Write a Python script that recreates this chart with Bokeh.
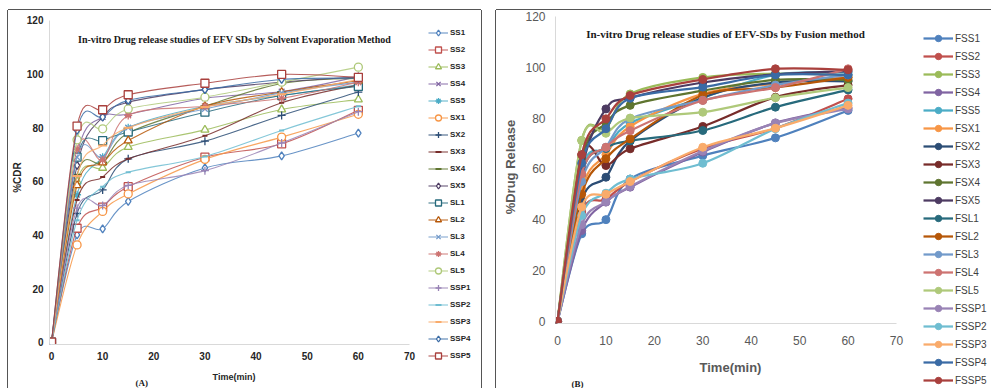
from bokeh.plotting import figure
from bokeh.models import (Range1d, FixedTicker, Legend, LegendItem, Label, Row, Column,
                          Spacer, Title)
from bokeh.embed import file_html
from bokeh.resources import INLINE

# ---------------- data ----------------
time_min = [0, 5, 10, 15, 30, 45, 60]
x_ticks = [0, 10, 20, 30, 40, 50, 60, 70]
y_ticks = [0, 20, 40, 60, 80, 100, 120]

# Panel (A): solvent evaporation method, %CDR
a_names = ["SS1", "SS2", "SS3", "SS4", "SS5", "SX1", "SX2", "SX3", "SX4", "SX5",
           "SL1", "SL2", "SL3", "SL4", "SL5", "SSP1", "SSP2", "SSP3", "SSP4", "SSP5"]
SS1 = [0, 40, 42.3, 52.5, 65, 69.5, 78]
SS2 = [0, 42.5, 50.4, 58, 69, 74, 86.5]
SS3 = [0, 60, 65, 72.8, 79.2, 86.8, 90.5]
SS4 = [0, 70, 84, 85, 91, 93.5, 99]
SS5 = [0, 55, 69, 80, 88, 92, 96]
SX1 = [0, 36.3, 48.8, 55.3, 68.2, 76.5, 85]
SX2 = [0, 48, 56.8, 68.4, 75, 84.6, 93.3]
SX3 = [0, 53, 61.6, 68.4, 77, 89.3, 96]
SX4 = [0, 62.5, 67, 78, 88, 96.5, 98.5]
SX5 = [0, 66, 84, 89.5, 94.2, 97, 99]
SL1 = [0, 69, 75.2, 78.4, 85.8, 92, 95.4]
SL2 = [0, 58.5, 67, 75.2, 88, 93.3, 97.5]
SL3 = [0, 69, 69, 80, 87, 93, 97]
SL4 = [0, 72, 68, 84.6, 88, 91, 97]
SL5 = [0, 75.5, 79.6, 87, 91.4, 97, 102.6]
SSP1 = [0, 50, 51, 58.5, 64, 74.3, 86]
SSP2 = [0, 45.5, 58, 63.4, 69.3, 79, 88]
SSP3 = [0, 62, 73.4, 80, 87.7, 92.5, 98]
SSP4 = [0, 79, 84, 90.2, 94.2, 98, 98.5]
SSP5 = [0, 80.6, 86.7, 92.3, 96.6, 99.9, 98.8]
a_values = [SS1, SS2, SS3, SS4, SS5, SX1, SX2, SX3, SX4, SX5,
            SL1, SL2, SL3, SL4, SL5, SSP1, SSP2, SSP3, SSP4, SSP5]

# Panel (B): fusion method, %Drug Release
b_names = ["FSS1", "FSS2", "FSS3", "FSS4", "FSS5", "FSX1", "FSX2", "FSX3", "FSX4", "FSX5",
           "FSL1", "FSL2", "FSL3", "FSL4", "FSL5", "FSSP1", "FSSP2", "FSSP3", "FSSP4", "FSSP5"]
FSS1 = [0, 34.4, 40, 56, 65.2, 72.2, 83]
FSS2 = [0, 43, 48, 55, 68, 76, 87.6]
FSS3 = [0, 71.2, 76, 89.5, 96, 97.5, 97]
FSS4 = [0, 35.7, 46.9, 52.8, 66.6, 78.1, 84]
FSS5 = [0, 60, 68, 78, 88, 97, 98]
FSX1 = [0, 52, 65.6, 76.7, 89.5, 93.5, 96.1]
FSX2 = [0, 47.5, 56.7, 71, 88, 94, 94.5]
FSX3 = [0, 65.6, 61.3, 67.9, 76.7, 88.2, 93]
FSX4 = [0, 64, 78, 85, 90.8, 95, 95]
FSX5 = [0, 60, 83.6, 88, 94, 97.2, 98.5]
FSL1 = [0, 58, 68, 71, 75.1, 84.3, 91.1]
FSL2 = [0, 50, 64, 71.8, 89, 92, 96]
FSL3 = [0, 55, 68.5, 79.7, 87, 93, 97]
FSL4 = [0, 58, 68.5, 75, 86.9, 92, 99.4]
FSL5 = [0, 71.2, 74, 80, 82.3, 88, 92]
FSSP1 = [0, 38, 47, 53, 67, 78, 83.6]
FSSP2 = [0, 41.6, 50.4, 56, 62.2, 75.8, 85.9]
FSSP3 = [0, 45, 50, 55, 68.5, 76, 85]
FSSP4 = [0, 62.2, 75.8, 87.8, 92.2, 97, 97]
FSSP5 = [0, 65.6, 79.7, 88.9, 95.2, 99.4, 99]
b_values = [FSS1, FSS2, FSS3, FSS4, FSS5, FSX1, FSX2, FSX3, FSX4, FSX5,
            FSL1, FSL2, FSL3, FSL4, FSL5, FSSP1, FSSP2, FSSP3, FSSP4, FSSP5]

# ---------------- styles ----------------
palette = ["#4F81BD", "#C0504D", "#9BBB59", "#8064A2", "#4BACC6", "#F79646",
           "#2C4D75", "#772C2A", "#5F7530", "#4D3B62", "#276A7C", "#B65708",
           "#729ACA", "#CD7371", "#AFC97A", "#9983B5", "#6FBDD1", "#F9AB6B",
           "#3A6BA5", "#A9403D"]
a_markers = ["diamond", "square", "triangle", "x", "asterisk", "circle", "cross",
             "dash", "dash", "diamond", "square", "triangle", "x", "asterisk",
             "circle", "cross", "dash", "dash", "diamond", "square"]
a_sizes = [8, 8, 8, 8, 8, 8, 8, 5, 9, 8, 8, 8, 8, 8, 8, 8, 5, 9, 8, 8]

H = 378


def no_align(p):
    # keep every plot's own borders (do not line frames up across the row)
    try:
        p.frame_align = False
    except AttributeError:
        pass


def smooth_parts(xs, ys):
    """Bezier control points (Catmull-Rom style, like Excel smoothed lines)."""
    n = len(xs)
    out = dict(x0=[], y0=[], x1=[], y1=[], cx0=[], cy0=[], cx1=[], cy1=[])
    for i in range(n - 1):
        a = max(i - 1, 0)
        b = min(i + 2, n - 1)
        out["x0"].append(xs[i]); out["y0"].append(ys[i])
        out["x1"].append(xs[i + 1]); out["y1"].append(ys[i + 1])
        out["cx0"].append(xs[i] + (xs[i + 1] - xs[a]) / 6.0)
        out["cy0"].append(ys[i] + (ys[i + 1] - ys[a]) / 6.0)
        out["cx1"].append(xs[i + 1] - (xs[b] - xs[i]) / 6.0)
        out["cy1"].append(ys[i + 1] - (ys[b] - ys[i]) / 6.0)
    return out


def style_axes(p, tick_font_size, tick_color, tick_bold, lab_size, lab_color,
               x_std, x_lab_std, y_std, y_lab_std, xlabel, ylabel):
    p.xgrid.visible = False
    p.ygrid.visible = False
    for ax, ticks in ((p.xaxis[0], x_ticks), (p.yaxis[0], y_ticks)):
        ax.ticker = FixedTicker(ticks=ticks)
        ax.bounds = (ticks[0], ticks[-1])
        ax.axis_line_color = "#d9d9d9"
        ax.axis_line_width = 1
        ax.major_tick_line_color = None
        ax.minor_tick_line_color = None
        ax.major_tick_out = 0
        ax.major_tick_in = 0
        ax.major_label_text_font = "Liberation Sans"
        ax.major_label_text_font_size = tick_font_size
        ax.major_label_text_color = tick_color
        ax.major_label_text_font_style = "bold" if tick_bold else "normal"
        ax.axis_label_text_font = "Liberation Sans"
        ax.axis_label_text_font_style = "bold"
        ax.axis_label_text_font_size = lab_size
        ax.axis_label_text_color = lab_color
    p.xaxis[0].major_label_standoff = x_std
    p.xaxis[0].axis_label_standoff = x_lab_std
    p.xaxis[0].axis_label = xlabel
    p.yaxis[0].major_label_standoff = y_std
    p.yaxis[0].axis_label_standoff = y_lab_std
    p.yaxis[0].axis_label = ylabel


def legend_figure(width, items_spec, **legend_kw):
    """A narrow strip that only carries the legend (its data lie outside its view)."""
    lf = figure(width=width, height=H, output_backend="svg", toolbar_location=None,
                x_axis_location=None, y_axis_location=None,
                x_range=Range1d(-30, -20), y_range=Range1d(-30, -20),
                min_border_left=0, min_border_right=0, min_border_top=0, min_border_bottom=0,
                outline_line_color=None, background_fill_color="white",
                border_fill_color="white")
    no_align(lf)
    lf.grid.visible = False
    items = []
    for name, vals, line_kw, mark_kw in items_spec:
        bz = lf.bezier(source=smooth_parts(time_min, vals), x0="x0", y0="y0", x1="x1", y1="y1",
                       cx0="cx0", cy0="cy0", cx1="cx1", cy1="cy1", **line_kw)
        sc = lf.scatter(time_min, vals, **mark_kw)
        items.append(LegendItem(label=name, renderers=[bz, sc]))
    lf.add_layout(Legend(items=items, border_line_color=None,
                         background_fill_alpha=0, **legend_kw))
    return lf


# ---------------- panel A ----------------
pa = figure(width=410, height=H, output_backend="svg", toolbar_location=None,
            x_range=Range1d(-0.391, 71.76), y_range=Range1d(-0.858, 123.73),
            min_border_left=41, min_border_right=0, min_border_top=0, min_border_bottom=44,
            outline_line_color=None, background_fill_color="white", border_fill_color="white")
no_align(pa)
style_axes(pa, "10px", "#262626", True, "9px", "#262626", 7, 9, 6, 1, "Time(min)", "%CDR")
pa.yaxis[0].axis_label_text_font_size = "10px"

spec_a = []
for name, vals, col, mk, sz in zip(a_names, a_values, palette, a_markers, a_sizes):
    line_kw = dict(line_color=col, line_width=1.1, line_alpha=0.85)
    lw = 2 if mk == "dash" else 1.3
    mark_kw = dict(marker=mk, size=sz, line_color=col, line_width=lw, fill_color="white")
    pa.bezier(source=smooth_parts(time_min, vals), x0="x0", y0="y0", x1="x1", y1="y1",
              cx0="cx0", cy0="cy0", cx1="cx1", cy1="cy1", **line_kw)
    pa.scatter(time_min, vals, **mark_kw)
    spec_a.append((name, vals, line_kw, mark_kw))

pa.add_layout(Label(x=35.78, y=112.9, text="In-vitro Drug release studies of EFV SDs by Solvent Evaporation Method",
                    text_align="center", text_baseline="middle", text_font="Liberation Serif",
                    text_font_style="bold", text_font_size="10px", text_color="#1a1a1a"))
pa.add_layout(Title(text="(A)", align="left", vertical_align="top", offset=86, standoff=-13,
                    text_font="Liberation Serif", text_font_style="bold",
                    text_font_size="9px", text_color="#1a1a1a"), "below")
pa.styles = {"box-shadow": "-1px 0 0 0 #555, 0 -1px 0 0 #555"}

la = legend_figure(63, spec_a, location=(10, 25.5), glyph_width=20, glyph_height=15,
                   label_height=15, spacing=2, padding=4, margin=0, label_standoff=2,
                   label_text_font="Liberation Sans", label_text_font_style="bold",
                   label_text_font_size="8px", label_text_color="#262626")
la.styles = {"box-shadow": "1px 0 0 0 #555, 0 -1px 0 0 #555"}

# ---------------- panel B ----------------
pb = figure(width=409, height=H, output_backend="svg", toolbar_location=None,
            x_range=Range1d(-0.413, 71.86), y_range=Range1d(-0.906, 122.36),
            min_border_left=59, min_border_right=0, min_border_top=0, min_border_bottom=65,
            outline_line_color=None, background_fill_color="white", border_fill_color="white")
no_align(pb)
style_axes(pb, "12px", "#595959", False, "13px", "#595959", 12, 12, 10, 4, "Time(min)", "%Drug Release")

spec_b = []
for name, vals, col in zip(b_names, b_values, palette):
    line_kw = dict(line_color=col, line_width=2.25)
    mark_kw = dict(marker="circle", size=8, line_color=col, line_width=1, fill_color=col)
    pb.bezier(source=smooth_parts(time_min, vals), x0="x0", y0="y0", x1="x1", y1="y1",
              cx0="cx0", cy0="cy0", cx1="cx1", cy1="cy1", **line_kw)
    pb.scatter(time_min, vals, **mark_kw)
    spec_b.append((name, vals, line_kw, mark_kw))

pb.add_layout(Label(x=34.69, y=113.3, text="In-vitro Drug release studies of EFV-SDs by Fusion method",
                    text_align="center", text_baseline="middle", text_font="Liberation Serif",
                    text_font_style="bold", text_font_size="11px", text_color="#1a1a1a"))
pb.add_layout(Title(text="(B)", align="left", vertical_align="bottom", offset=16, standoff=-2,
                    text_font="Liberation Serif", text_font_style="bold",
                    text_font_size="9px", text_color="#1a1a1a"), "below")
pb.styles = {"box-shadow": "-1px 0 0 0 #555, 0 -1px 0 0 #555"}

lb = legend_figure(86, spec_b, location=(18, 0), glyph_width=30, glyph_height=16,
                   label_height=16, spacing=2, padding=2, margin=0, label_standoff=2,
                   label_text_font="Liberation Sans", label_text_font_size="10px",
                   label_text_color="#404040")
lb.styles = {"box-shadow": "0 -1px 0 0 #555"}

layout = Column(children=[
    Spacer(width=991, height=10),
    Row(children=[Spacer(width=8, height=H), pa, la, Spacer(width=15, height=H), pb, lb]),
])
open("out.html", "w").write(file_html(layout, INLINE))
